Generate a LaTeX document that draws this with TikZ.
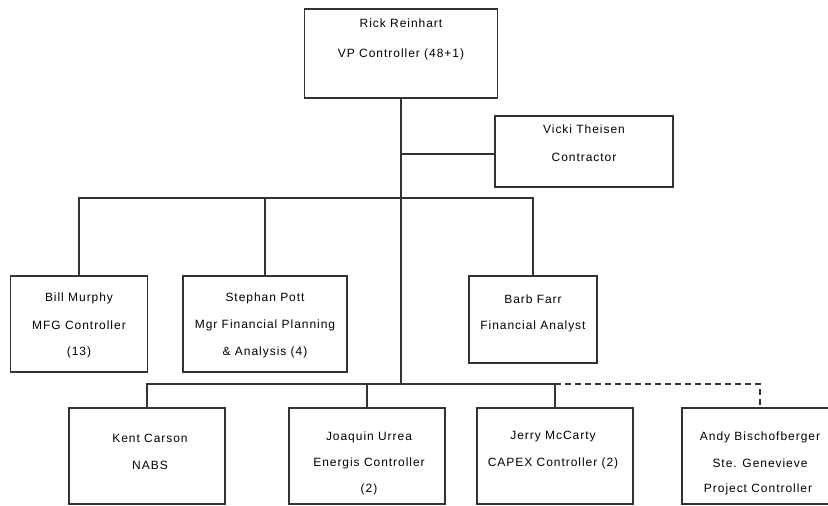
\documentclass[tikz,border=0pt]{standalone}
\usepackage{fontspec}
\setmainfont{Liberation Sans}[LetterSpace=8]
\begin{document}
\begin{tikzpicture}[x=1pt,y=-1pt,
  orgbox/.style={draw=black!80, line width=1.6pt, rectangle, inner sep=0pt, fill=none},
  txt/.style={inner sep=0pt, font=\fontsize{12}{14}\selectfont, text=black},
  link/.style={draw=black!80, line width=1.6pt},
  dotlink/.style={draw=black!80, line width=1.6pt, dash pattern=on 6pt off 4pt}]
\useasboundingbox (0,0) rectangle (828,506);
\clip (0,0) rectangle (828,506);
% boxes
\node[orgbox, minimum width=193pt, minimum height=89pt] (rick) at (401,53.5) {};
\node[orgbox, minimum width=178pt, minimum height=71pt] (vicki) at (584,151.5) {};
\node[orgbox, minimum width=137pt, minimum height=96pt] (bill) at (79,324) {};
\node[orgbox, minimum width=164pt, minimum height=96pt] (stephan) at (265,324) {};
\node[orgbox, minimum width=128pt, minimum height=87pt] (barb) at (533,319.5) {};
\node[orgbox, minimum width=156pt, minimum height=96pt] (kent) at (147,456) {};
\node[orgbox, minimum width=156pt, minimum height=96pt] (joaquin) at (367,456) {};
\node[orgbox, minimum width=156pt, minimum height=96pt] (jerry) at (555,456) {};
\node[orgbox, minimum width=156pt, minimum height=96pt] (andy) at (760,456) {};
% texts
\node[txt] (rick1) at (401,23) {Rick Reinhart};
\node[txt] (rick2) at (401,54) {VP Controller (48+1)};
\node[txt] (vicki1) at (584,129) {Vicki Theisen};
\node[txt] (vicki2) at (584,157) {Contractor};
\node[txt] (bill1) at (79,298) {Bill Murphy};
\node[txt] (bill2) at (79,325) {MFG Controller};
\node[txt] (bill3) at (79,352) {(13)};
\node[txt] (stephan1) at (265,298) {Stephan Pott};
\node[txt] (stephan2) at (265,325) {Mgr Financial Planning};
\node[txt] (stephan3) at (265,352) {\& Analysis (4)};
\node[txt] (barb1) at (533,299) {Barb Farr};
\node[txt] (barb2) at (533,326) {Financial Analyst};
\node[txt] (kent1) at (150,438) {Kent Carson};
\node[txt] (kent2) at (150,465) {NABS};
\node[txt] (joaquin1) at (369,437) {Joaquin Urrea};
\node[txt] (joaquin2) at (369,463) {Energis Controller};
\node[txt] (joaquin3) at (369,489) {(2)};
\node[txt] (jerry1) at (553,437) {Jerry McCarty};
\node[txt] (jerry2) at (553,463) {CAPEX Controller (2)};
\node[txt] (andy1) at (760,437) {Andy Bischofberger};
\node[txt] (andy2) at (760,463) {Ste. Genevieve};
\node[txt] (andy3) at (758,489) {Project Controller};
% bus coordinates
\coordinate (busM) at (401,198);
\coordinate (busB) at (401,384);
\coordinate (busV) at (401,154);
% connectors
\draw[link] (rick.south) -- (rick.south |- busB);
\draw[link] (vicki.west |- busV) -- (busV);
\draw[link] (bill.north) -- (bill.north |- busM) -- (barb.north |- busM) -- (barb.north);
\draw[link] (stephan.north) -- (stephan.north |- busM);
\draw[link] (kent.north) -- (kent.north |- busB) -- (jerry.north |- busB) -- (jerry.north);
\draw[link] (joaquin.north) -- (joaquin.north |- busB);
\draw[dotlink] (jerry.north |- busB) -- (andy.north |- busB) -- (andy.north);
\end{tikzpicture}
\end{document}
